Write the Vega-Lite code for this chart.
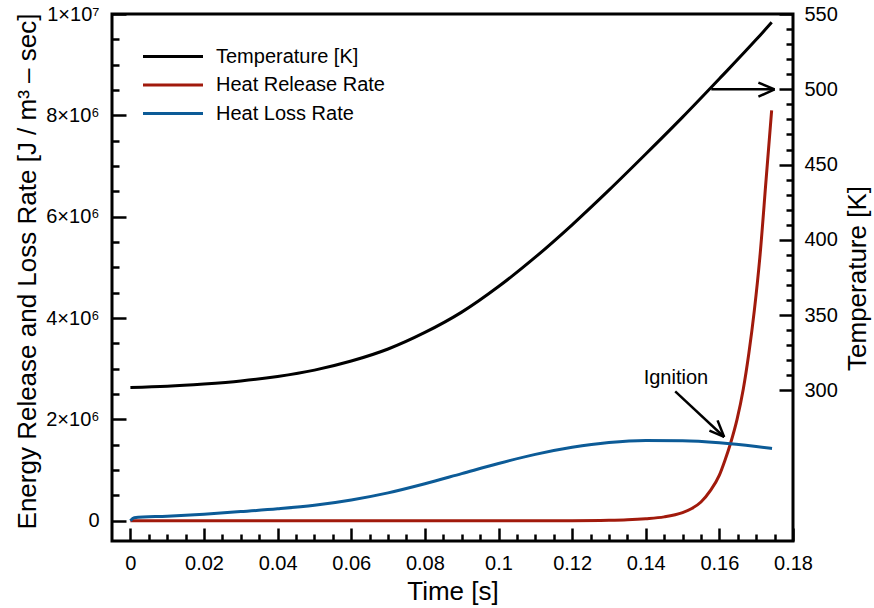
{
  "$schema": "https://vega.github.io/schema/vega-lite/v6.json",
  "autosize": "none",
  "width": 681,
  "height": 527,
  "padding": {"left": 112, "top": 14, "right": 81, "bottom": 67},
  "config": {
    "font": "Liberation Sans",
    "view": {"stroke": "black", "strokeWidth": 3},
    "axis": {
      "domain": false,
      "grid": false,
      "ticks": true,
      "tickColor": "black",
      "tickWidth": 2.5,
      "labelColor": "black",
      "labelFontSize": 20,
      "labelFlush": false,
      "labelOverlap": false,
      "labelBound": false,
      "titleColor": "black",
      "titleFontSize": 26,
      "titleFontWeight": "normal"
    }
  },
  "datasets": {
    "temp": [
      {"t": 0, "v": 302, "s": "Temperature [K]"},
      {"t": 0.01, "v": 302.8, "s": "Temperature [K]"},
      {"t": 0.02, "v": 304.3, "s": "Temperature [K]"},
      {"t": 0.03, "v": 306.3, "s": "Temperature [K]"},
      {"t": 0.04, "v": 309.3, "s": "Temperature [K]"},
      {"t": 0.05, "v": 313.5, "s": "Temperature [K]"},
      {"t": 0.06, "v": 319.5, "s": "Temperature [K]"},
      {"t": 0.07, "v": 327.5, "s": "Temperature [K]"},
      {"t": 0.08, "v": 338.5, "s": "Temperature [K]"},
      {"t": 0.09, "v": 352, "s": "Temperature [K]"},
      {"t": 0.1, "v": 369, "s": "Temperature [K]"},
      {"t": 0.11, "v": 388.5, "s": "Temperature [K]"},
      {"t": 0.12, "v": 410, "s": "Temperature [K]"},
      {"t": 0.13, "v": 433, "s": "Temperature [K]"},
      {"t": 0.14, "v": 457, "s": "Temperature [K]"},
      {"t": 0.15, "v": 481.5, "s": "Temperature [K]"},
      {"t": 0.16, "v": 507, "s": "Temperature [K]"},
      {"t": 0.17, "v": 533, "s": "Temperature [K]"},
      {"t": 0.1742, "v": 544.5, "s": "Temperature [K]"}
    ],
    "loss": [
      {"t": 0, "v": 0, "s": "Heat Loss Rate"},
      {"t": 0.001, "v": 60000, "s": "Heat Loss Rate"},
      {"t": 0.01, "v": 90000, "s": "Heat Loss Rate"},
      {"t": 0.02, "v": 130000, "s": "Heat Loss Rate"},
      {"t": 0.03, "v": 180000, "s": "Heat Loss Rate"},
      {"t": 0.04, "v": 235000, "s": "Heat Loss Rate"},
      {"t": 0.05, "v": 305000, "s": "Heat Loss Rate"},
      {"t": 0.06, "v": 410000, "s": "Heat Loss Rate"},
      {"t": 0.07, "v": 550000, "s": "Heat Loss Rate"},
      {"t": 0.08, "v": 730000, "s": "Heat Loss Rate"},
      {"t": 0.09, "v": 930000, "s": "Heat Loss Rate"},
      {"t": 0.1, "v": 1130000, "s": "Heat Loss Rate"},
      {"t": 0.11, "v": 1310000, "s": "Heat Loss Rate"},
      {"t": 0.12, "v": 1450000, "s": "Heat Loss Rate"},
      {"t": 0.13, "v": 1545000, "s": "Heat Loss Rate"},
      {"t": 0.14, "v": 1585000, "s": "Heat Loss Rate"},
      {"t": 0.15, "v": 1580000, "s": "Heat Loss Rate"},
      {"t": 0.16, "v": 1540000, "s": "Heat Loss Rate"},
      {"t": 0.17, "v": 1465000, "s": "Heat Loss Rate"},
      {"t": 0.1743, "v": 1425000, "s": "Heat Loss Rate"}
    ],
    "release": [
      {"t": 0, "v": 0, "s": "Heat Release Rate"},
      {"t": 0.05, "v": 0, "s": "Heat Release Rate"},
      {"t": 0.1, "v": 500, "s": "Heat Release Rate"},
      {"t": 0.12, "v": 2000, "s": "Heat Release Rate"},
      {"t": 0.13, "v": 9000, "s": "Heat Release Rate"},
      {"t": 0.135, "v": 19000, "s": "Heat Release Rate"},
      {"t": 0.14, "v": 40000, "s": "Heat Release Rate"},
      {"t": 0.145, "v": 76000, "s": "Heat Release Rate"},
      {"t": 0.15, "v": 160000, "s": "Heat Release Rate"},
      {"t": 0.1525, "v": 240000, "s": "Heat Release Rate"},
      {"t": 0.155, "v": 370000, "s": "Heat Release Rate"},
      {"t": 0.1575, "v": 590000, "s": "Heat Release Rate"},
      {"t": 0.16, "v": 900000, "s": "Heat Release Rate"},
      {"t": 0.1615, "v": 1190000, "s": "Heat Release Rate"},
      {"t": 0.163, "v": 1520000, "s": "Heat Release Rate"},
      {"t": 0.1648, "v": 2000000, "s": "Heat Release Rate"},
      {"t": 0.1665, "v": 2600000, "s": "Heat Release Rate"},
      {"t": 0.168, "v": 3300000, "s": "Heat Release Rate"},
      {"t": 0.1695, "v": 4150000, "s": "Heat Release Rate"},
      {"t": 0.171, "v": 5200000, "s": "Heat Release Rate"},
      {"t": 0.1727, "v": 6740000, "s": "Heat Release Rate"},
      {"t": 0.1742, "v": 8100000, "s": "Heat Release Rate"}
    ],
    "ignitionArrow": [
      {"t": 0.148, "v": 2554000, "t2": 0.1613, "v2": 1653000},
      {"t": 0.1573, "v": 1778000, "t2": 0.1613, "v2": 1653000},
      {"t": 0.1595, "v": 1981000, "t2": 0.1613, "v2": 1653000}
    ],
    "ignitionLabel": [
      {"t": 0.1482, "v": 2825000, "label": "Ignition"}
    ],
    "tempArrow": [
      {"t": 0.1578, "v": 500, "t2": 0.175, "v2": 500},
      {"t": 0.1706, "v": 504.4, "t2": 0.175, "v2": 500},
      {"t": 0.1706, "v": 495.1, "t2": 0.175, "v2": 500}
    ]
  },
  "encoding": {
    "x": {
      "field": "t",
      "type": "quantitative",
      "scale": {"domain": [-0.005, 0.18], "nice": false, "zero": false},
      "axis": {
        "title": "Time [s]",
        "values": [0, 0.005, 0.01, 0.015, 0.02, 0.025, 0.03, 0.035, 0.04, 0.045, 0.05, 0.055, 0.06, 0.065, 0.07, 0.075, 0.08, 0.085, 0.09, 0.095, 0.1, 0.105, 0.11, 0.115, 0.12, 0.125, 0.13, 0.135, 0.14, 0.145, 0.15, 0.155, 0.16, 0.165, 0.17, 0.175, 0.18],
        "labelExpr": "abs(datum.value*50 - round(datum.value*50)) < 1e-6 ? format(datum.value, '~g') : ''",
        "tickSize": {"condition": {"test": "abs(datum.value*50 - round(datum.value*50)) < 1e-6", "value": -13}, "value": -7},
        "labelPadding": 25,
        "titleX": 340.5,
        "titleY": 50,
        "titleBaseline": "middle"
      }
    }
  },
  "layer": [
    {
      "encoding": {
        "y": {
          "field": "v",
          "type": "quantitative",
          "scale": {"domain": [-400000, 10000000], "nice": false, "zero": false},
          "axis": {
            "title": "Energy Release and Loss Rate [J / m³ – sec]",
            "values": [0, 500000, 1000000, 1500000, 2000000, 2500000, 3000000, 3500000, 4000000, 4500000, 5000000, 5500000, 6000000, 6500000, 7000000, 7500000, 8000000, 8500000, 9000000, 9500000, 10000000],
            "labelExpr": "datum.value % 2000000 == 0 ? (datum.value == 0 ? '0' : (datum.value == 10000000 ? '1×10⁷' : (datum.value/1000000) + '×10⁶')) : ''",
            "tickSize": {"condition": {"test": "datum.value % 2000000 == 0", "value": -14}, "value": -7},
            "labelPadding": 27,
            "titleX": -85,
            "titleY": 257,
            "titleBaseline": "middle",
            "titleAngle": -90
          }
        }
      },
      "layer": [
        {
          "data": {"name": "release"},
          "mark": {"type": "line", "strokeWidth": 3, "interpolate": "monotone"},
          "encoding": {
            "color": {
              "field": "s",
              "type": "nominal",
              "scale": {"domain": ["Temperature [K]", "Heat Release Rate", "Heat Loss Rate"], "range": ["#000000", "#a11a0c", "#0c5b97"]},
              "legend": {
                "title": null,
                "orient": "none",
                "legendX": 49.5,
                "legendY": 31,
                "padding": 0,
                "symbolType": "M-3,0H3",
                "symbolSize": 400,
                "symbolStrokeWidth": 3,
                "labelFontSize": 20,
                "labelColor": "black",
                "labelLimit": 400,
                "labelOffset": 31.5,
                "rowPadding": 6.5
              }
            }
          }
        },
        {
          "data": {"name": "loss"},
          "mark": {"type": "line", "strokeWidth": 3, "interpolate": "monotone"},
          "encoding": {"color": {"field": "s", "type": "nominal"}}
        },
        {
          "data": {"name": "ignitionArrow"},
          "mark": {"type": "rule", "color": "black", "strokeWidth": 2.5},
          "encoding": {"x2": {"field": "t2"}, "y2": {"field": "v2"}}
        },
        {
          "data": {"name": "ignitionLabel"},
          "mark": {"type": "text", "fontSize": 20, "color": "black", "baseline": "middle"},
          "encoding": {"text": {"field": "label"}}
        }
      ]
    },
    {
      "encoding": {
        "y": {
          "field": "v",
          "type": "quantitative",
          "scale": {"domain": [200, 550], "nice": false, "zero": false},
          "axis": {
            "orient": "right",
            "title": "Temperature [K]",
            "values": [300, 310, 320, 330, 340, 350, 360, 370, 380, 390, 400, 410, 420, 430, 440, 450, 460, 470, 480, 490, 500, 510, 520, 530, 540, 550],
            "labelExpr": "datum.value % 50 == 0 ? '' + datum.value : ''",
            "tickSize": {"condition": {"test": "datum.value % 50 == 0", "value": -14}, "value": -7},
            "labelPadding": 25,
            "titleX": 64.5,
            "titleY": 264,
            "titleBaseline": "middle",
            "titleAngle": -90
          }
        }
      },
      "layer": [
        {
          "data": {"name": "temp"},
          "mark": {"type": "line", "strokeWidth": 3, "interpolate": "monotone"},
          "encoding": {"color": {"field": "s", "type": "nominal"}}
        },
        {
          "data": {"name": "tempArrow"},
          "mark": {"type": "rule", "color": "black", "strokeWidth": 2.5},
          "encoding": {"x2": {"field": "t2"}, "y2": {"field": "v2"}}
        }
      ]
    }
  ],
  "resolve": {"scale": {"y": "independent"}}
}
